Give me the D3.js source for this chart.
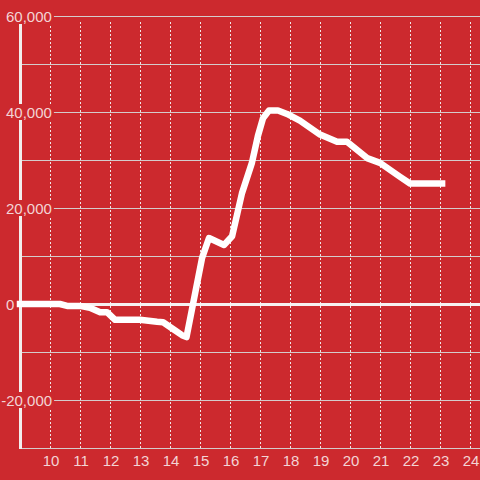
<!DOCTYPE html>
<html>
<head>
<meta charset="utf-8">
<script src="https://cdn.jsdelivr.net/npm/d3@7"></script>
<style>
  body { margin: 0; background: #cc292e; }
  svg { display: block; }
  text { font-family: "Liberation Sans", Arial, sans-serif; font-size: 15px; fill: #f3d4d5; }
</style>
</head>
<body>
<div id="chart"></div>
<script>
var xValues = [9, 10.33, 10.57, 11.0, 11.33, 11.67, 11.9, 12.17, 13.0, 13.57, 13.77, 14.1, 14.4, 14.55,
    15.07, 15.3, 15.8, 16.07, 16.25, 16.4, 16.73, 16.93, 17.1, 17.3, 17.6, 17.9, 18.33, 19.0, 19.57, 19.9,
    20.57, 21.0, 21.67, 22.0, 23.07];
var yValues = [0, 0, -400, -400, -800, -1700, -1700, -3300, -3300, -3700, -3800, -5200, -6500, -6900,
    9600, 13750, 12300, 14100, 19000, 23100, 29400, 35000, 38700, 40300, 40300, 39600, 38200, 35300, 33800, 33800,
    30400, 29400, 26500, 25100, 25100];
var xTicks = [10, 11, 12, 13, 14, 15, 16, 17, 18, 19, 20, 21, 22, 23, 24];
var yGrid = [60000, 50000, 40000, 30000, 20000, 10000, -10000, -20000, -30000];
var yLabels = [60000, 40000, 20000, 0, -20000];

var width = 480, height = 480;

var x = d3.scaleLinear().domain([9, 24 + 1 / 3]).range([20, 480]);
var y = d3.scaleLinear().domain([-30000, 60000]).range([448, 16]);

var fmt = d3.formatLocale({decimal: ".", thousands: ",", grouping: [3], currency: ["", ""], minus: "-"}).format(",");

var svg = d3.select("#chart")
    .append("svg")
    .attr("width", width)
    .attr("height", height);

svg.append("rect")
    .attr("width", width)
    .attr("height", height)
    .attr("fill", "#cc292e");

// horizontal grid
svg.append("g")
    .selectAll("line")
    .data(yGrid)
    .enter().append("line")
    .attr("x1", 20)
    .attr("x2", width)
    .attr("y1", function (d) { return y(d) + 0.5; })
    .attr("y2", function (d) { return y(d) + 0.5; })
    .attr("stroke", "#d4cccc")
    .attr("stroke-width", 1);

// vertical dashed grid
svg.append("g")
    .selectAll("line")
    .data(xTicks)
    .enter().append("line")
    .attr("x1", function (d) { return Math.round(x(d)) + 0.5; })
    .attr("x2", function (d) { return Math.round(x(d)) + 0.5; })
    .attr("y1", 22)
    .attr("y2", 448)
    .attr("stroke", "#f0e6e6")
    .attr("stroke-width", 1)
    .attr("stroke-dasharray", "2,2");

// y axis line
svg.append("line")
    .attr("x1", 20.5).attr("x2", 20.5)
    .attr("y1", 16).attr("y2", 449)
    .attr("stroke", "#f2eeee")
    .attr("stroke-width", 3);

// zero line
svg.append("line")
    .attr("x1", 17).attr("x2", width)
    .attr("y1", y(0) + 0.5).attr("y2", y(0) + 0.5)
    .attr("stroke", "#f6f0f0")
    .attr("stroke-width", 3);

// y labels with boxes hiding grid behind them
var labels = svg.append("g")
    .selectAll("g")
    .data(yLabels)
    .enter().append("g");

labels.append("text")
    .attr("x", function (d) { return d < 0 ? 1.2 : 6; })
    .attr("y", function (d) { return y(d) + 6; })
    .text(function (d) { return fmt(d); })
    .each(function (d) {
        var w = this.getComputedTextLength();
        d3.select(this.parentNode).insert("rect", "text")
            .attr("x", 0)
            .attr("y", y(d) - 8)
            .attr("width", (d < 0 ? 1.2 : 6) + w + 2)
            .attr("height", 16)
            .attr("fill", "#cc292e");
    });

// x labels
svg.append("g")
    .selectAll("text")
    .data(xTicks)
    .enter().append("text")
    .attr("x", function (d) { return x(d) + 1; })
    .attr("y", 466)
    .attr("text-anchor", "middle")
    .text(function (d) { return d; });

// data line
var line = d3.line()
    .x(function (d) { return x(d); })
    .y(function (d, i) { return y(yValues[i]); });

svg.append("path")
    .attr("d", line(xValues))
    .attr("fill", "none")
    .attr("stroke", "#ffffff")
    .attr("stroke-width", 6.5)
    .attr("stroke-linejoin", "round")
    .attr("stroke-linecap", "square");
</script>
</body>
</html>
